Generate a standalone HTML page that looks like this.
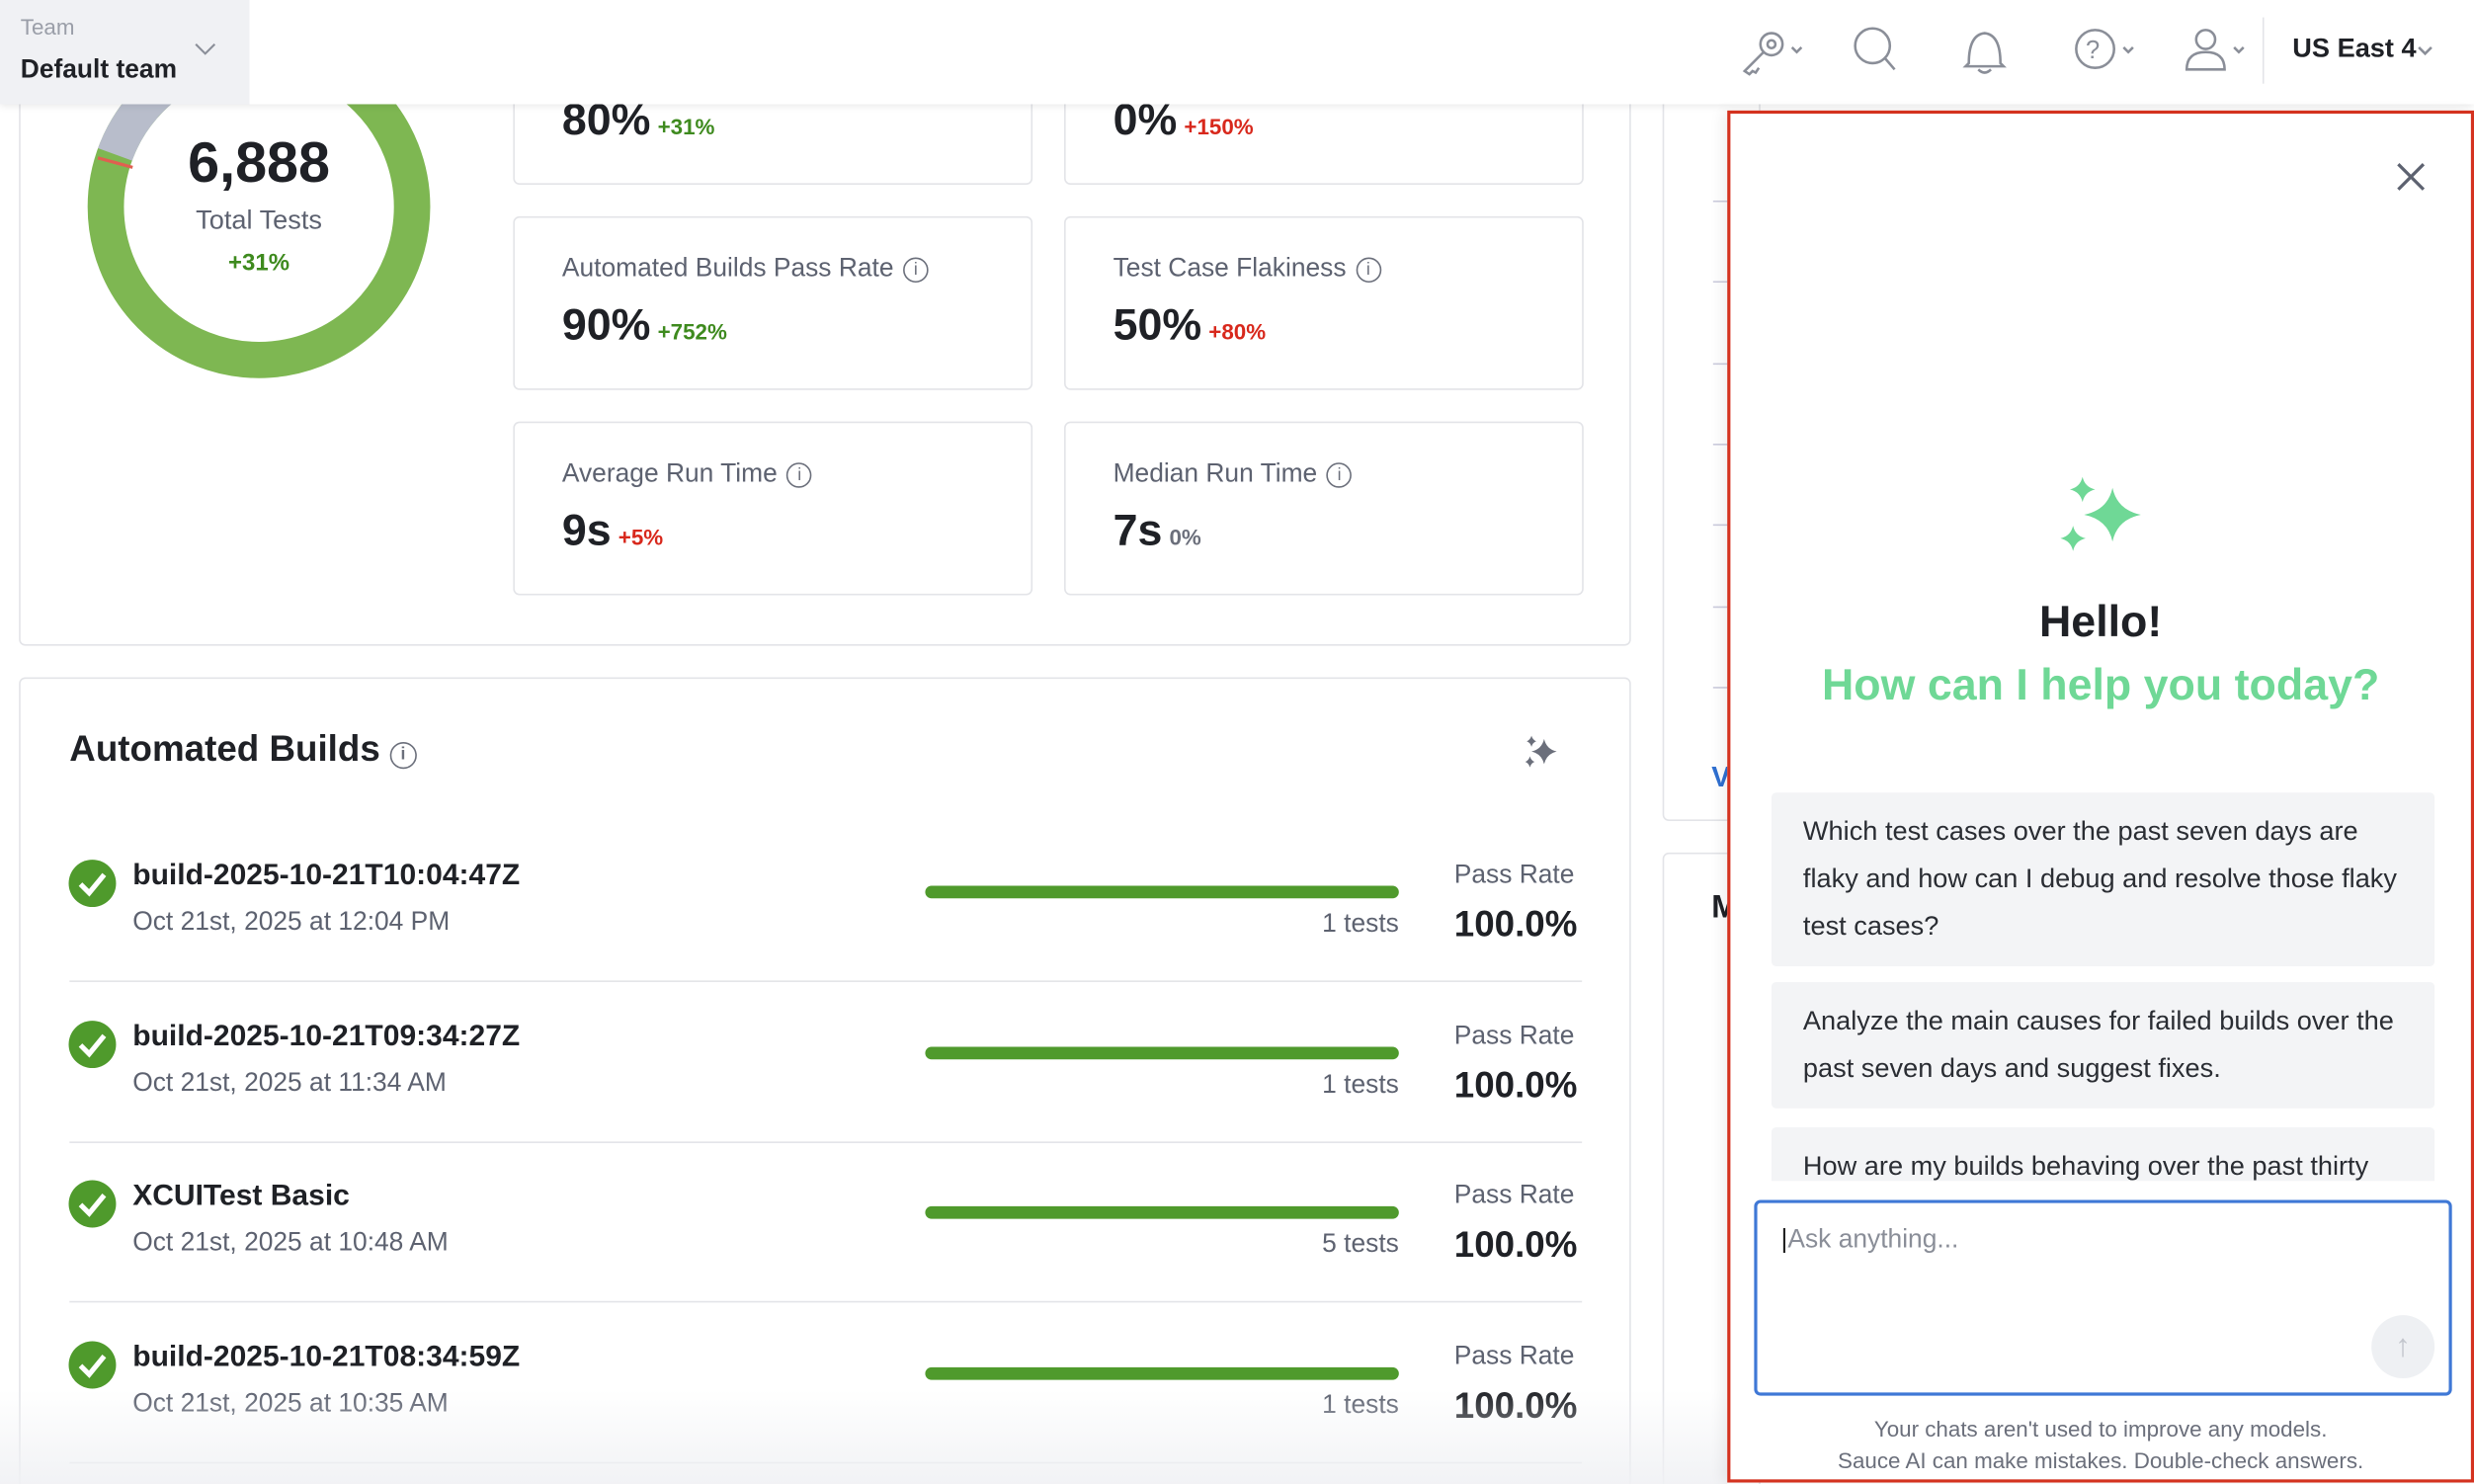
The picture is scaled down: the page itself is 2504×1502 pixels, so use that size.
<!DOCTYPE html>
<html><head><meta charset="utf-8"><style>
html,body{margin:0;padding:0;width:2504px;height:1502px;overflow:hidden;background:#fff;}
#w{position:absolute;left:0;top:0;width:1567px;height:940px;transform:scale(1.598);transform-origin:0 0;font-family:"Liberation Sans",sans-serif;color:#1f2126;background:#fff;overflow:hidden;}
.a{position:absolute;}
.card{position:absolute;border:1px solid #e3e4e8;border-radius:4px;background:#fff;}
.lbl{font-size:16.5px;color:#5d6270;}
.big{font-size:28px;font-weight:bold;color:#1f2126;}
.g{color:#3e8a1e;font-size:14px;font-weight:bold;}
.r{color:#d8281c;font-size:14px;font-weight:bold;}
.info{display:inline-block;width:14px;height:14px;border:1.3px solid #6b6f7b;border-radius:50%;font-size:11px;text-align:center;line-height:14px;color:#6b6f7b;vertical-align:1px;margin-left:6px;}
.bt{font-size:18.8px;font-weight:bold;}
.bd{font-size:16.5px;color:#5d6270;}
.sug{position:absolute;left:1122px;width:420px;background:#f3f4f6;border-radius:3px;font-size:17px;line-height:30px;color:#2a2d33;box-sizing:border-box;padding:10px 20px;}
</style></head><body><div id="w">

<div class="card" style="left:12px;top:30px;width:1019px;height:377px;"></div>
<svg class="a" style="left:0;top:0" width="330" height="260">
<circle cx="164" cy="131" r="97" fill="none" stroke="#7eb752" stroke-width="23"/>
<circle cx="164" cy="131" r="97" fill="none" stroke="#b8bdcb" stroke-width="23" stroke-dasharray="60 609.5" transform="rotate(-160 164 131)" />
<line x1="62" y1="100" x2="84" y2="106" stroke="#e06050" stroke-width="2"/>
</svg>
<div class="a" style="left:64px;top:82px;width:200px;text-align:center;font-size:36px;font-weight:bold;">6,888</div>
<div class="a" style="left:64px;top:130px;width:200px;text-align:center;font-size:17px;color:#5d6270;">Total Tests</div>
<div class="a g" style="left:64px;top:158px;width:200px;text-align:center;font-size:15px;">+31%</div>

<div class="card" style="left:325px;top:20px;width:327px;height:95px;"></div>
<div class="card" style="left:674px;top:20px;width:327px;height:95px;"></div>
<div class="a" style="left:356px;top:60px;"><span class="big">80%</span> <span class="g">+31%</span></div>
<div class="a" style="left:705px;top:60px;"><span class="big">0%</span> <span class="r">+150%</span></div>

<div class="card" style="left:325px;top:137px;width:327px;height:108px;"></div>
<div class="card" style="left:674px;top:137px;width:327px;height:108px;"></div>
<div class="a lbl" style="left:356px;top:161px;">Automated Builds Pass Rate<span class="info">i</span></div>
<div class="a lbl" style="left:705px;top:161px;">Test Case Flakiness<span class="info">i</span></div>
<div class="a" style="left:356px;top:190px;"><span class="big">90%</span> <span class="g">+752%</span></div>
<div class="a" style="left:705px;top:190px;"><span class="big">50%</span> <span class="r">+80%</span></div>

<div class="card" style="left:325px;top:267px;width:327px;height:108px;"></div>
<div class="card" style="left:674px;top:267px;width:327px;height:108px;"></div>
<div class="a lbl" style="left:356px;top:291px;">Average Run Time<span class="info">i</span></div>
<div class="a lbl" style="left:705px;top:291px;">Median Run Time<span class="info">i</span></div>
<div class="a" style="left:356px;top:320px;"><span class="big">9s</span> <span class="r">+5%</span></div>
<div class="a" style="left:705px;top:320px;"><span class="big">7s</span> <span style="color:#6b6f7b;font-size:14px;font-weight:bold;">0%</span></div>

<div class="card" style="left:12px;top:429px;width:1019px;height:540px;"></div>
<div class="a" style="left:44px;top:461px;font-size:23px;font-weight:bold;">Automated Builds<span class="info" style="width:15px;height:15px;">i</span></div>
<svg class="a" style="left:964px;top:464px" width="24" height="24" viewBox="0 0 24 24" fill="#6b6f7b"><path d="M14 4 Q15.5 10.5 22 12 Q15.5 13.5 14 20 Q12.5 13.5 6 12 Q12.5 10.5 14 4Z"/><path d="M6 2 Q6.8 4.7 9 5.5 Q6.8 6.3 6 9 Q5.2 6.3 3 5.5 Q5.2 4.7 6 2Z"/><path d="M5 15 Q5.8 17.7 8 18.5 Q5.8 19.3 5 22 Q4.2 19.3 2 18.5 Q4.2 17.7 5 15Z"/></svg>

<div id="builds"></div>

<div class="card" style="left:1053px;top:40px;width:60px;height:478px;"></div>
<div class="card" style="left:1053px;top:540px;width:60px;height:420px;"></div>
<div class="a" style="left:1085px;top:127px;width:10px;height:1px;background:#ccd;"></div>
<div class="a" style="left:1085px;top:178px;width:10px;height:1px;background:#ccd;"></div>
<div class="a" style="left:1085px;top:230px;width:10px;height:1px;background:#ccd;"></div>
<div class="a" style="left:1085px;top:281px;width:10px;height:1px;background:#ccd;"></div>
<div class="a" style="left:1085px;top:332px;width:10px;height:1px;background:#ccd;"></div>
<div class="a" style="left:1085px;top:384px;width:10px;height:1px;background:#ccd;"></div>
<div class="a" style="left:1085px;top:435px;width:10px;height:1px;background:#ccd;"></div>
<div class="a" style="left:1084px;top:482px;color:#2f6fd0;font-weight:bold;font-size:18px;">V</div>
<div class="a" style="left:1084px;top:564px;font-weight:bold;font-size:20px;">M</div>

<div class="a" style="left:0;top:880px;width:1094px;height:60px;background:linear-gradient(rgba(255,255,255,0),rgba(240,241,244,0.9));"></div>

<div class="a" style="left:0;top:0;width:1567px;height:66px;background:#fff;box-shadow:0 2px 4px rgba(0,0,0,0.08);"></div>
<div class="a" style="left:0;top:0;width:158px;height:66px;background:#f0f1f4;"></div>
<div class="a" style="left:13px;top:9px;font-size:14px;color:#9a9ea8;">Team</div>
<div class="a" style="left:13px;top:35px;font-size:16.5px;font-weight:bold;">Default team</div>
<svg class="a" style="left:123px;top:26px" width="14" height="10" fill="none" stroke="#8a8e98" stroke-width="1.3"><path d="M1 2 L7 8 L13 2"/></svg>
<svg class="a" style="left:1100px;top:14px" width="460" height="36" fill="none" stroke="#8a8e98" stroke-width="1.6">
<circle cx="22" cy="14" r="7"/><circle cx="22" cy="14" r="2.5"/><path d="M17 19 L5 31 L8 33 L10 31 L12 32 L14 29"/>
<path d="M35 16 l3 3 l3 -3"/>
<circle cx="86" cy="15" r="11"/><path d="M94 23 L100 30"/>
<path d="M147 26 Q147 8 157 7 Q167 8 167 26 L169 28 L145 28 Z M153 30 Q157 34 161 30"/>
<circle cx="227" cy="17" r="12"/><text x="221" y="23" font-size="16" fill="#8a8e98" stroke="none" font-family="Liberation Sans">?</text>
<path d="M245 16 l3 3 l3 -3"/>
<circle cx="297" cy="11" r="6"/><path d="M285 30 Q285 19 297 19 Q309 19 309 30 Z"/>
<path d="M315 16 l3 3 l3 -3"/>
<path d="M432 16 l4 4 l4 -4"/>
</svg>
<div class="a" style="left:1433px;top:11px;width:1px;height:42px;background:#e3e4e8;"></div>
<div class="a" style="left:1452px;top:21px;font-size:17px;font-weight:bold;">US East 4</div>

<div class="a" style="left:1094px;top:70px;width:469px;height:865px;border:2px solid #d4321f;background:#fff;box-shadow:-4px 0 8px rgba(0,0,0,0.06);"></div>
<svg class="a" style="left:1517px;top:102px" width="20" height="20" stroke="#5d6270" stroke-width="2"><path d="M2 2 L18 18 M18 2 L2 18"/></svg>
<svg class="a" style="left:1304px;top:300px" width="56" height="56" viewBox="0 0 56 56" fill="#6fd896">
<path d="M34 9 Q37 23 52 26 Q37 29 34 43 Q31 29 16 26 Q31 23 34 9Z"/>
<path d="M15 2 Q16.5 8.5 23 10 Q16.5 11.5 15 18 Q13.5 11.5 7 10 Q13.5 8.5 15 2Z"/>
<path d="M9 33 Q10.5 39.5 17 41 Q10.5 42.5 9 49 Q7.5 42.5 1 41 Q7.5 39.5 9 33Z"/></svg>
<div class="a" style="left:1094px;top:378px;width:473px;text-align:center;font-size:28px;font-weight:bold;color:#1f2126;">Hello!</div>
<div class="a" style="left:1094px;top:418px;width:473px;text-align:center;font-size:28px;font-weight:bold;color:#6fd896;">How can I help you today?</div>

<div style="position:absolute;left:0;top:0;width:1567px;height:748px;overflow:hidden;">
<div class="sug" style="top:502px;height:110px;">Which test cases over the past seven days are flaky and how can I debug and resolve those flaky test cases?</div>
<div class="sug" style="top:622px;height:80px;">Analyze the main causes for failed builds over the past seven days and suggest fixes.</div>
<div class="sug" style="top:714px;height:80px;">How are my builds behaving over the past thirty days?</div>
</div>

<div class="a" style="left:1111px;top:760px;width:438px;height:120px;border:2px solid #3f78d6;border-radius:4px;"></div>
<div class="a" style="left:1128px;top:776px;font-size:16.5px;color:#8a8e98;"><span style="color:#222;">|</span>Ask anything...</div>
<div class="a" style="left:1502px;top:833px;width:40px;height:40px;border-radius:50%;background:#eef0f3;color:#c3c6cd;text-align:center;line-height:40px;font-size:20px;">↑</div>
<div class="a" style="left:1094px;top:895px;width:473px;text-align:center;font-size:14px;color:#6b6f7b;line-height:20px;">Your chats aren't used to improve any models.<br>Sauce AI can make mistakes. Double-check answers.</div>

</div>
<script>
var rows=[["build-2025-10-21T10:04:47Z","Oct 21st, 2025 at 12:04 PM","1 tests"],["build-2025-10-21T09:34:27Z","Oct 21st, 2025 at 11:34 AM","1 tests"],["XCUITest Basic","Oct 21st, 2025 at 10:48 AM","5 tests"],["build-2025-10-21T08:34:59Z","Oct 21st, 2025 at 10:35 AM","1 tests"]];
var h='';
rows.forEach(function(r,i){var y=i*101.5;
h+='<svg class="a" style="left:43px;top:'+(544+y)+'px" width="31" height="31"><circle cx="15.5" cy="15.5" r="15" fill="#4f9a2c"/><path d="M8 16 L13.5 21.5 L23 10" stroke="#fff" stroke-width="3.2" fill="none"/></svg>';
h+='<div class="a bt" style="left:84px;top:'+(543+y)+'px">'+r[0]+'</div>';
h+='<div class="a bd" style="left:84px;top:'+(575+y)+'px">'+r[1]+'</div>';
h+='<div class="a" style="left:586px;top:'+(561+y)+'px;width:300px;height:8px;border-radius:4px;background:#4f9a2c"></div>';
h+='<div class="a bd" style="left:786px;width:100px;text-align:right;top:'+(576+y)+'px">'+r[2]+'</div>';
h+='<div class="a bd" style="left:921px;top:'+(545+y)+'px">Pass Rate</div>';
h+='<div class="a" style="left:921px;top:'+(572+y)+'px;font-size:23px;font-weight:bold">100.0%</div>';
h+='<div class="a" style="left:44px;top:'+(621+y)+'px;width:958px;height:1px;background:#e3e4e8"></div>';});
document.getElementById('builds').innerHTML=h;
</script>
</body></html>
